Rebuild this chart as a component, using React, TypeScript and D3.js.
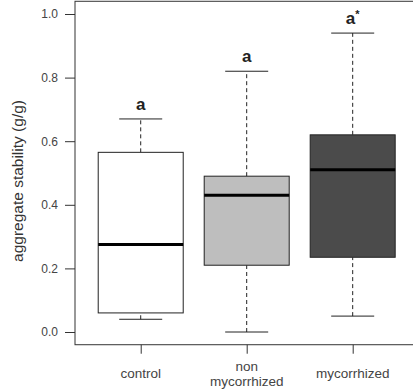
import { useRef, useEffect } from "react";
import { select, scaleLinear, axisLeft, axisBottom } from "d3";

const W = 413;
const H = 391;

// categories and box statistics
const groups = ["control", "non\nmycorrhized", "mycorrhized"];
const lowWhisker = [0.04, 0.0, 0.05];
const lowerQuartile = [0.06, 0.21, 0.235];
const medians = [0.275, 0.43, 0.51];
const upperQuartile = [0.565, 0.49, 0.62];
const highWhisker = [0.67, 0.82, 0.94];
const fills = ["#ffffff", "#bebebe", "#4b4b4b"];
const letters = ["a", "a", "a*"];
const yTicks = [0, 0.2, 0.4, 0.6, 0.8, 1.0];

const FONT = "Liberation Sans, Arial, sans-serif";

export default function App() {
  const svgRef = useRef<SVGSVGElement>(null);

  useEffect(() => {
    const svg = select(svgRef.current);
    svg.selectAll("*").remove();

    const x = scaleLinear().domain([0.38, 3.62]).range([75, 418.4]);
    const y = scaleLinear().domain([0, 1]).range([332, 14]);
    const boxW = 85;
    const capW = 43;

    // y axis
    const ya = svg
      .append("g")
      .attr("transform", "translate(75,0)")
      .call(axisLeft(y).tickValues(yTicks).tickFormat((d) => (+d).toFixed(1)).tickSize(10).tickPadding(7));
    ya.select(".domain").remove();
    ya.selectAll("line").attr("stroke", "#333");
    ya.selectAll("text").attr("font-family", FONT).attr("font-size", 12).attr("fill", "#444");

    // x axis ticks
    const xa = svg
      .append("g")
      .attr("transform", `translate(0,${y(-0.04)})`)
      .call(axisBottom(x).tickValues([1, 2, 3]).tickFormat(() => "").tickSize(9));
    xa.select(".domain").remove();
    xa.selectAll("line").attr("stroke", "#333");

    // x labels
    groups.forEach((g, i) => {
      const lines = g.split("\n");
      const t = svg
        .append("text")
        .attr("x", x(i + 1))
        .attr("text-anchor", "middle")
        .attr("font-family", FONT)
        .attr("font-size", 13.5)
        .attr("fill", "#444");
      if (lines.length === 1) {
        t.attr("y", 378).text(g);
      } else {
        lines.forEach((ln, j) => {
          t.append("tspan").attr("x", x(i + 1)).attr("y", 371 + j * 15).text(ln);
        });
      }
    });

    // y title
    svg
      .append("text")
      .attr("transform", `translate(23,${(y(0) + y(1)) / 2 + 8}) rotate(-90)`)
      .attr("text-anchor", "middle")
      .attr("font-family", FONT)
      .attr("font-size", 15.5)
      .attr("fill", "#333")
      .text("aggregate stability (g/g)");

    // boxes
    const g = svg.append("g");
    groups.forEach((_, i) => {
      const cx = x(i + 1);
      // whiskers
      [
        [upperQuartile[i], highWhisker[i]],
        [lowWhisker[i], lowerQuartile[i]],
      ].forEach(([a, b]) => {
        g.append("line")
          .attr("x1", cx).attr("x2", cx)
          .attr("y1", y(a)).attr("y2", y(b))
          .attr("stroke", "#222")
          .attr("stroke-dasharray", "4,3");
      });
      [lowWhisker[i], highWhisker[i]].forEach((v) => {
        g.append("line")
          .attr("x1", cx - capW / 2).attr("x2", cx + capW / 2)
          .attr("y1", y(v)).attr("y2", y(v))
          .attr("stroke", "#222");
      });
      g.append("rect")
        .attr("x", cx - boxW / 2)
        .attr("width", boxW)
        .attr("y", y(upperQuartile[i]))
        .attr("height", y(lowerQuartile[i]) - y(upperQuartile[i]))
        .attr("fill", fills[i])
        .attr("stroke", "#222");
      g.append("line")
        .attr("x1", cx - boxW / 2).attr("x2", cx + boxW / 2)
        .attr("y1", y(medians[i])).attr("y2", y(medians[i]))
        .attr("stroke", "#000")
        .attr("stroke-width", 3);

      // significance letters
      const lt = g
        .append("text")
        .attr("x", cx)
        .attr("y", y(highWhisker[i]) - 9)
        .attr("text-anchor", "middle")
        .attr("font-family", FONT)
        .attr("font-size", 17)
        .attr("font-weight", "bold")
        .attr("fill", "#222");
      const base = letters[i].replace("*", "");
      lt.append("tspan").text(base);
      if (letters[i].includes("*")) {
        lt.append("tspan").attr("font-size", 11).attr("dy", -6).text("*");
      }
    });

    // frame
    svg
      .append("rect")
      .attr("x", 75)
      .attr("y", y(1.04))
      .attr("width", x(3.62) - 75)
      .attr("height", y(-0.04) - y(1.04))
      .attr("fill", "none")
      .attr("stroke", "#333");
  }, []);

  return (
    <svg
      ref={svgRef}
      width={W}
      height={H}
      style={{ position: "absolute", left: 0, top: 0, background: "#fff" }}
    />
  );
}
